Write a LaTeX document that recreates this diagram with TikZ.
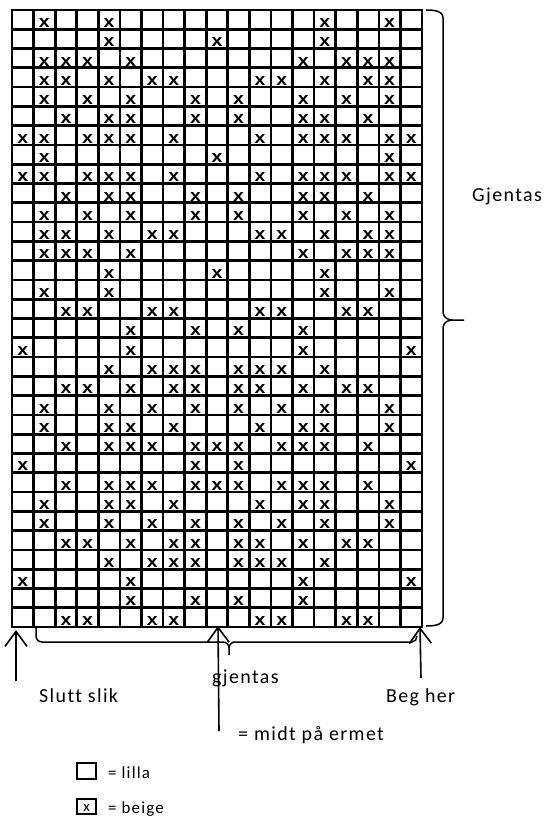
\documentclass[tikz,border=0pt]{standalone}
\usepackage{fontspec}
\setmainfont{Carlito}
\newfontfamily\labfont[LetterSpace=7,Ligatures={NoCommon}]{Carlito}
\newfontfamily\xfont{Liberation Sans}
\usetikzlibrary{arrows.meta}
\begin{document}
\begin{tikzpicture}[x=1bp,y=-1bp,
  gridline/.style={line width=2.7bp, line cap=rect},
  xmark/.style={font=\fontsize{17}{17}\xfont\bfseries, inner sep=0pt, anchor=base, xscale=1.15},
  arr/.style={line width=1.6bp, -{Straight Barb[length=15bp,width=22bp]}},
  brace/.style={line width=1.5bp},
  lab/.style={font=\fontsize{20}{20}\labfont, inner sep=0pt, anchor=base west},
  leg/.style={font=\fontsize{17}{17}\labfont, inner sep=0pt, anchor=base west},
  legbox/.style={line width=2bp}]
\useasboundingbox (0,0) rectangle (549,821);
\begin{scope}[shift={(12,10)}, x=21.579bp, y=-19.281bp]
  \foreach \i in {0,...,19} \draw[gridline] (\i,0) -- (\i,32);
  \foreach \j in {0,...,32} \draw[gridline] (0,\j) -- (19,\j);
  \foreach \r/\cols in {
    1/{2,5,15,18}, 2/{5,10,15}, 3/{2,3,4,6,14,16,17,18},
    4/{2,3,5,7,8,12,13,15,17,18}, 5/{2,4,6,9,11,14,16,18},
    6/{3,5,6,9,11,14,15,17}, 7/{1,2,4,5,6,8,12,14,15,16,18,19},
    8/{2,10,18}, 9/{1,2,4,5,6,8,12,14,15,16,18,19},
    10/{3,5,6,9,11,14,15,17}, 11/{2,4,6,9,11,14,16,18},
    12/{2,3,5,7,8,12,13,15,17,18}, 13/{2,3,4,6,14,16,17,18},
    14/{5,10,15}, 15/{2,5,15,18}, 16/{3,4,7,8,12,13,16,17},
    17/{6,9,11,14}, 18/{1,6,14,19}, 19/{5,7,8,9,11,12,13,15},
    20/{3,4,6,8,9,11,12,14,16,17}, 21/{2,5,7,9,11,13,15,18},
    22/{2,5,6,8,12,14,15,18}, 23/{3,5,6,7,9,10,11,13,14,15,17},
    24/{1,9,11,19}, 25/{3,5,6,7,9,10,11,13,14,15,17},
    26/{2,5,6,8,12,14,15,18}, 27/{2,5,7,9,11,13,15,18},
    28/{3,4,6,8,9,11,12,14,16,17}, 29/{5,7,8,9,11,12,13,15},
    30/{1,6,14,19}, 31/{6,9,11,14}, 32/{3,4,7,8,12,13,16,17}}
  {
    \foreach \c in \cols {
      \node[xmark, yshift=1.8bp] (x-\r-\c) at (\c-0.5,\r) {x};
    }
  }
\end{scope}
% right brace
\draw[brace] (426,10) to[out=0,in=90] (443,18) -- (443,312)
  to[out=-90,in=180] (452,320) -- (464,320);
\draw[brace] (452,320) to[out=180,in=90] (443,328) -- (443,618)
  to[out=-90,in=0] (426,626);
\node[lab] (gjentasR) at (472,201) {Gjentas};
% bottom brace
\draw[brace] (36,628) -- (36,636) to[out=-90,in=180] (42,642) -- (223,642)
  to[out=0,in=90] (229,648) -- (229,655);
\draw[brace] (229,648) to[out=90,in=180] (235,642) -- (412,642)
  to[out=0,in=-90] (417,636);
% arrows
\coordinate (sluttTip) at (16,630);
\coordinate (sluttEnd) at (16,681);
\coordinate (midtTip) at (218,626);
\coordinate (midtEnd) at (219,731);
\coordinate (begTip) at (420,627);
\coordinate (begEnd) at (421,678);
\draw[arr] (sluttEnd) -- (sluttTip);
\draw[arr] (midtEnd) -- (midtTip);
\draw[arr] (begEnd) -- (begTip);
% labels
\node[lab] (slutt) at (39,702) {Slutt slik};
\node[lab] (gjentasB) at (212,683) {gjentas};
\node[lab] (beg) at (386,702) {Beg her};
\node[lab] (midt) at (238,740) {= midt på ermet};
% legend
\draw[legbox] (77,763) rectangle (96,779);
\node[leg] (lilla) at (108,778) {= lilla};
\draw[legbox] (77,799) rectangle (96,814);
\node[font=\fontsize{15}{15}\selectfont, inner sep=0pt, anchor=base] (legx) at (86.5,811) {x};
\node[leg] (beige) at (108,813) {= beige};
\end{tikzpicture}
\end{document}
